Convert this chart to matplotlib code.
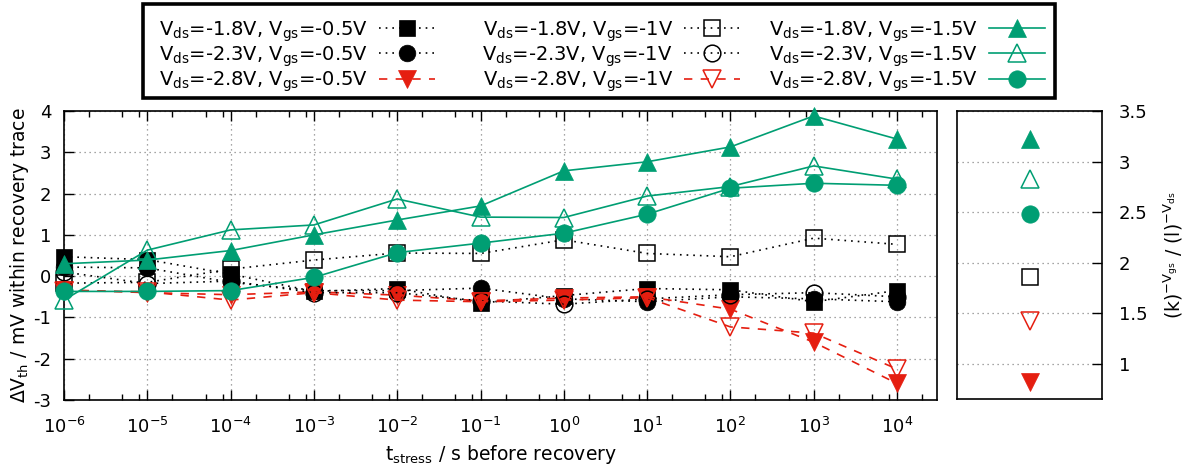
import numpy as np
import matplotlib
matplotlib.use("Agg")
import matplotlib.pyplot as plt
from matplotlib.patches import Rectangle
from matplotlib.ticker import FixedLocator, NullFormatter, LogFormatterSciNotation

plt.rcParams['font.family'] = ['DejaVu Sans']
plt.rcParams['mathtext.fontset'] = 'dejavusans'
plt.rcParams['axes.unicode_minus'] = False

# stress times (s) before recovery
t_stress = [1e-6, 1e-5, 1e-4, 1e-3, 1e-2, 1e-1, 1e0, 1e1, 1e2, 1e3, 1e4]

# threshold-voltage shift (mV) per bias condition
dvth_18_05 = [0.47, 0.40, 0.05, -0.37, -0.30, -0.65, -0.47, -0.30, -0.33, -0.62, -0.35]
dvth_23_05 = [0.22, 0.20, -0.15, -0.35, -0.35, -0.29, -0.55, -0.62, -0.50, -0.55, -0.62]
dvth_28_05 = [-0.33, -0.40, -0.45, -0.38, -0.46, -0.60, -0.53, -0.50, -0.80, -1.60, -2.60]
dvth_18_10 = [-0.17, -0.15, 0.17, 0.39, 0.56, 0.55, 0.88, 0.55, 0.47, 0.92, 0.77]
dvth_23_10 = [0.10, -0.18, -0.12, -0.40, -0.40, -0.60, -0.68, -0.55, -0.45, -0.40, -0.50]
dvth_28_10 = [-0.35, -0.38, -0.58, -0.40, -0.58, -0.62, -0.58, -0.52, -1.23, -1.38, -2.25]
dvth_18_15 = [0.30, 0.39, 0.62, 1.00, 1.36, 1.70, 2.55, 2.77, 3.13, 3.88, 3.32]
dvth_23_15 = [-0.58, 0.63, 1.12, 1.24, 1.87, 1.43, 1.42, 1.94, 2.17, 2.67, 2.35]
dvth_28_15 = [-0.37, -0.37, -0.35, -0.03, 0.57, 0.80, 1.04, 1.50, 2.13, 2.25, 2.20]

labels = [
    r'$\mathregular{V_{ds}}$=-1.8V, $\mathregular{V_{gs}}$=-0.5V',
    r'$\mathregular{V_{ds}}$=-2.3V, $\mathregular{V_{gs}}$=-0.5V',
    r'$\mathregular{V_{ds}}$=-2.8V, $\mathregular{V_{gs}}$=-0.5V',
    r'$\mathregular{V_{ds}}$=-1.8V, $\mathregular{V_{gs}}$=-1V',
    r'$\mathregular{V_{ds}}$=-2.3V, $\mathregular{V_{gs}}$=-1V',
    r'$\mathregular{V_{ds}}$=-2.8V, $\mathregular{V_{gs}}$=-1V',
    r'$\mathregular{V_{ds}}$=-1.8V, $\mathregular{V_{gs}}$=-1.5V',
    r'$\mathregular{V_{ds}}$=-2.3V, $\mathregular{V_{gs}}$=-1.5V',
    r'$\mathregular{V_{ds}}$=-2.8V, $\mathregular{V_{gs}}$=-1.5V',
]

# scale factor per marker class (side panel)
side_values = [3.22, 2.83, 2.48, 1.86, 1.42, 0.82]

GREEN = '#009e73'
RED = '#e51e10'
BLACK = 'black'
DOT = (0, (1, 3))
DASH = (0, (5, 5))

series = [
    (dvth_18_05, BLACK, DOT, 's', True, 11),
    (dvth_23_05, BLACK, DOT, 'o', True, 12),
    (dvth_28_05, RED, DASH, 'v', True, 13),
    (dvth_18_10, BLACK, DOT, 's', False, 11),
    (dvth_23_10, BLACK, DOT, 'o', False, 12),
    (dvth_28_10, RED, DASH, 'v', False, 13),
    (dvth_18_15, GREEN, '-', '^', True, 13),
    (dvth_23_15, GREEN, '-', '^', False, 13),
    (dvth_28_15, GREEN, '-', 'o', True, 12.5),
]

W, H = 1185, 471
fig = plt.figure(figsize=(W / 100, H / 100), dpi=100)
ax = fig.add_axes([64 / W, 1 - 400 / H, (937 - 64) / W, (400 - 111) / H])
ax2 = fig.add_axes([957 / W, 1 - 399 / H, (1102 - 957) / W, (399 - 111) / H])

handles = []
for i, (vals, col, ls, mk, filled, ms) in enumerate(series):
    h, = ax.plot(t_stress, vals, color=col, linestyle=ls, linewidth=1.2,
                 marker=mk, markersize=ms,
                 markerfacecolor=col if filled else 'none',
                 markeredgecolor=col, markeredgewidth=1.1 if not filled else 0.5,
                 clip_on=False, zorder=3 + i, label=labels[i])
    handles.append(h)

ax.set_xscale('log')
ax.set_xlim(1e-6, 10 ** 4.48)
ax.set_ylim(-3, 4)
ax.set_yticks(np.arange(-3, 5, 1))
ax.xaxis.set_major_locator(FixedLocator([10.0 ** k for k in range(-6, 5)]))
ax.xaxis.set_major_formatter(LogFormatterSciNotation())
ax.xaxis.set_minor_locator(FixedLocator([m * 10.0 ** k for k in range(-6, 5) for m in (2, 5, 8)]))
ax.xaxis.set_minor_formatter(NullFormatter())
ax.grid(True, which='major', color='#888888', linestyle=(0, (1, 3)), linewidth=0.9)
ax.tick_params(axis='x', which='major', direction='in', top=True, length=7, width=1, pad=12.5, labelsize=13)
ax.tick_params(axis='x', which='minor', direction='in', top=True, length=4, width=1)
ax.tick_params(axis='y', which='major', direction='in', right=False, length=7, width=1, pad=9, labelsize=13)
for sp in ax.spines.values():
    sp.set_linewidth(1.2)
ax.set_xlabel(r'$\mathregular{t_{stress}}$ / s before recovery', fontsize=13.5, labelpad=4)
ax.set_ylabel(r'$\mathregular{\Delta V_{th}}$ / mV within recovery trace', fontsize=13.5, labelpad=2)

# side panel: scale factors
side_styles = [
    (GREEN, '^', True, 13), (GREEN, '^', False, 13), (GREEN, 'o', True, 12.5),
    (BLACK, 's', False, 11), (RED, 'v', False, 13), (RED, 'v', True, 13),
]
for v, (col, mk, filled, ms) in zip(side_values, side_styles):
    ax2.plot([0.5], [v], linestyle='none', marker=mk, markersize=ms,
             markerfacecolor=col if filled else 'none', markeredgecolor=col,
             markeredgewidth=1.1 if not filled else 0.5)
ax2.set_xlim(0, 1)
ax2.set_ylim(0.65, 3.5)
ax2.set_xticks([])
ax2.set_yticks([1, 1.5, 2, 2.5, 3, 3.5])
ax2.set_yticklabels(['1', '1.5', '2', '2.5', '3', '3.5'])
ax2.yaxis.tick_right()
ax2.yaxis.set_label_position('right')
ax2.tick_params(axis='y', direction='in', length=7, width=1, pad=12, labelsize=13, left=False)
ax2.grid(True, axis='y', color='#888888', linestyle=(0, (1, 3)), linewidth=0.9)
for sp in ax2.spines.values():
    sp.set_linewidth(1.2)
ax2.set_ylabel(r'(k)$^{\mathregular{-V_{gs}}}$ / (l)$^{\mathregular{-V_{ds}}}$', fontsize=13.5, labelpad=10)

# key: three right-aligned columns inside one framed box
col_right = [435, 740, 1045]
for c in range(3):
    fig.legend(handles=handles[3 * c:3 * c + 3], ncol=1, loc='upper right',
               bbox_to_anchor=(col_right[c] / W, 1 - 19 / H), fontsize=14,
               markerfirst=False, handlelength=2.9, handletextpad=0.55,
               labelspacing=0.03, borderpad=0, borderaxespad=0, frameon=False)
fig.add_artist(Rectangle((143 / W, 1 - 98 / H), 912 / W, 94 / H, transform=fig.transFigure,
                         fill=False, linewidth=2.6, edgecolor='black'))

fig.savefig('out.png', dpi=100)
